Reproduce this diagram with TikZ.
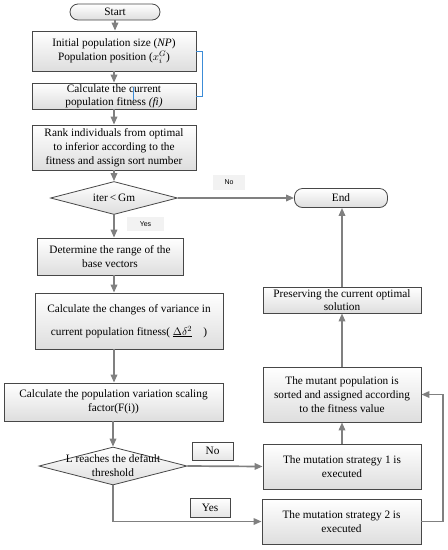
\documentclass[tikz,border=0pt]{standalone}
\usepackage{fontspec}
\setmainfont{Liberation Serif}
\newfontfamily\lblfont{Liberation Sans}
\usetikzlibrary{shapes.geometric,arrows.meta}
\begin{document}
\begin{tikzpicture}[x=1pt,y=-1pt,
  box/.style={draw=black!72,line width=0.8pt,top color=white,bottom color=black!13,
    align=center,inner sep=1pt,font=\fontsize{11.3}{14}\selectfont},
  term/.style={box,rounded corners=8pt},
  dec/.style={diamond,draw=black!72,line width=0.8pt,top color=white,bottom color=black!13,inner sep=0pt},
  dectext/.style={align=center,inner sep=0pt,font=\fontsize{11.3}{14}\selectfont},
  lab/.style={fill=black!5,inner sep=0pt,font=\lblfont\fontsize{7}{8}\selectfont},
  lab2/.style={draw=black!72,line width=0.8pt,top color=white,bottom color=black!10,inner sep=0pt,font=\fontsize{11.3}{13}\selectfont},
  arr/.style={draw=black!50,line width=1.7pt,-{Triangle[length=8pt,width=6.5pt]}},
  blue/.style={draw={rgb,255:red,60;green,140;blue,215},line width=0.8pt}
]
\useasboundingbox (0,0) rectangle (448,550);
\node[term,minimum width=90pt,minimum height=16pt] (start) at (115,12) {Start};
\node[box,minimum width=164pt,minimum height=40pt] (b1) at (114,51)
  {Initial population size (\textit{NP})\\Population position ($x_i^{G}$)};
\node[box,minimum width=164pt,minimum height=26pt,font=\fontsize{11.3}{13}\selectfont] (b2) at (114,96)
  {Calculate the current\\population fitness \textit{(fi)}};
\node[box,minimum width=164pt,minimum height=45pt] (b3) at (114,147.5)
  {Rank individuals from optimal\\to inferior according to the\\fitness and assign sort number};
\node[dec,minimum width=127pt,minimum height=33pt] (d1) at (114,198) {};
\node[dectext] (d1t) at (d1.center) {iter\,<\,Gm};
\node[term,minimum width=93pt,minimum height=19pt] (end) at (341,198) {End};
\node[lab,minimum width=32pt,minimum height=15pt] (no1) at (229,182.5) {No};
\node[lab,minimum width=37pt,minimum height=14pt] (yes1) at (145.5,224) {Yes};
\node[box,minimum width=146pt,minimum height=37pt] (b4) at (110,256.5)
  {Determine the range of the\\base vectors};
\node[box,minimum width=188pt,minimum height=56pt] (b5) at (129,321)
  {Calculate the changes of variance in\\[9pt]current population fitness( $\underline{\Delta\delta^{2}}$\quad)};
\node[box,minimum width=219pt,minimum height=38pt] (b6) at (113.5,402)
  {Calculate the population variation scaling\\factor(F(i))};
\node[dec,minimum width=148pt,minimum height=38pt] (d2) at (113,466) {};
\node[dectext] (d2t) at (d2.center) {L reaches the default\\threshold};
\node[lab2,minimum width=41pt,minimum height=18pt] (no2) at (212.5,451) {No};
\node[lab2,minimum width=40pt,minimum height=19pt] (yes2) at (210,507.5) {Yes};
\node[box,minimum width=158pt,minimum height=45pt] (b7) at (342,466.5)
  {The mutation strategy 1 is\\executed};
\node[box,minimum width=159pt,minimum height=45pt] (b8) at (341.5,521.5)
  {The mutation strategy 2 is\\executed};
\node[box,minimum width=158pt,minimum height=55pt] (b9) at (342,394.5)
  {The mutant population is\\sorted and assigned according\\to the fitness value};
\node[box,minimum width=158pt,minimum height=26pt,font=\fontsize{11.3}{13}\selectfont] (b10) at (342,300)
  {Preserving the current optimal\\solution};
\coordinate (rt) at (443,0);
% connectors
\draw[arr] (start.south) -- (b1.north -| start.south);
\draw[arr] (b1.south) -- (b2.north);
\draw[arr] (b2.south) -- (b3.north);
\draw[arr] (b3.south) -- (d1.north);
\draw[arr] (d1.east) -- (end.west);
\draw[arr] (d1.south) -- (b4.north -| d1.south);
\draw[arr] (b4.south -| d1.south) -- (b5.north -| d1.south);
\draw[arr] (b5.south -| d1.south) -- (b6.north -| d1.south);
\draw[arr] (b6.south -| d2.north) -- (d2.north);
\draw[arr] (d2.east) -- (b7.west);
\draw[arr] (d2.south) |- (b8.west);
\draw[arr] (b8.east) -- (b8.east -| rt) |- (b9.east);
\draw[arr] (b7.north) -- (b9.south);
\draw[arr] (b9.north) -- (b10.south);
\draw[arr] (b10.north) -- (end.south -| b10.north);
% blue marks
\draw[blue] (b1.east) -- ++(6,0) |- (b2.east);
\coordinate (cur) at (133,87);
\draw[blue] (cur) -- ++(0,13);
\end{tikzpicture}
\end{document}
